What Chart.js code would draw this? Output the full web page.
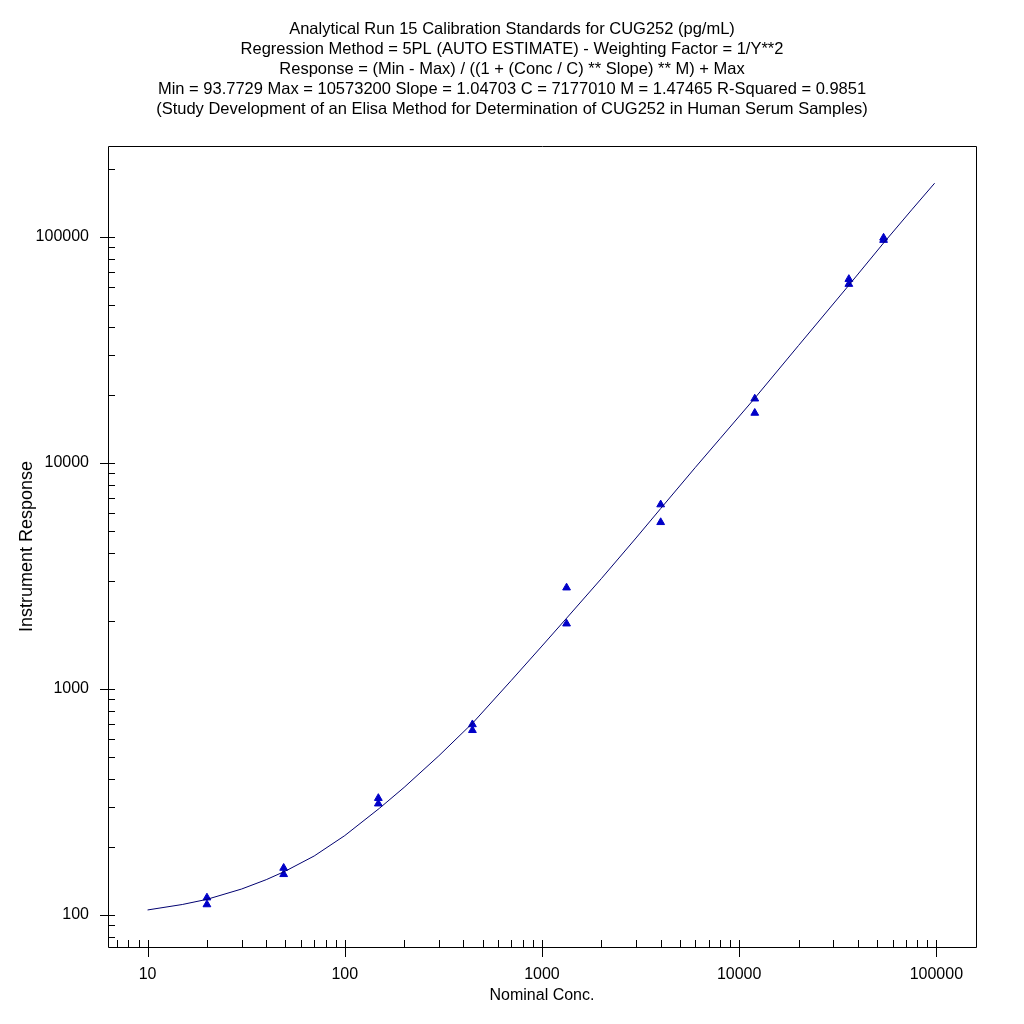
<!DOCTYPE html>
<html>
<head>
<meta charset="utf-8">
<title>Calibration Standards CUG252</title>
<script src="https://cdn.jsdelivr.net/npm/chart.js@4.4.1/dist/chart.umd.min.js"></script>
<style>
  html, body { margin: 0; padding: 0; background: #fff; }
</style>
</head>
<body>
<canvas id="calChart" width="1024" height="1024"></canvas>
<script>
// ---------------------------------------------------------------------------
// Data
// ---------------------------------------------------------------------------

const titleLines = [
  'Analytical Run 15 Calibration Standards for CUG252 (pg/mL)',
  'Regression Method = 5PL (AUTO ESTIMATE) - Weighting Factor = 1/Y**2',
  'Response = (Min - Max) / ((1 + (Conc / C) ** Slope) ** M) + Max',
  'Min = 93.7729 Max = 10573200 Slope = 1.04703 C = 7177010 M = 1.47465 R-Squared = 0.9851',
  '(Study Development of an Elisa Method for Determination of CUG252 in Human Serum Samples)'
];
const xAxisTitle = 'Nominal Conc.';
const yAxisTitle = 'Instrument Response';

const xMajorTicks = [10, 100, 1000, 10000, 100000];
const xTickLabels = ['10', '100', '1000', '10000', '100000'];
const yMajorTicks = [100, 1000, 10000, 100000];
const yTickLabels = ['100', '1000', '10000', '100000'];
const minorSteps  = [2, 3, 4, 5, 6, 7, 8, 9];

// calibration standards, two replicates each
const stdConc  = [20, 49, 148, 444, 1333, 4000, 12000, 36000, 54000];
const stdRespA = [119, 161, 328, 695, 2800, 6530, 19200, 64900, 98900];
const stdRespB = [111, 151, 310, 655, 1940, 5450, 16600, 61700, 96600];

// fitted 5PL curve as drawn
const curveConc = [10, 15, 20, 30, 40, 50, 70, 100, 150, 200, 300, 450, 700, 1000,
                   1350, 2000, 3000, 4000, 6000, 8000, 12000, 20000, 36000, 54000,
                   75000, 98000];
const curveResp = [105, 111, 117, 130, 143, 156, 182, 224, 296, 366, 505, 712, 1090, 1545,
                   2077, 3070, 4645, 6270, 9540, 12780, 19300, 33000, 61000, 93800,
                   131500, 172500];

// ---------------------------------------------------------------------------
// Helpers
// ---------------------------------------------------------------------------

function toPoints(xs, ys) {
  return xs.map(function (x, i) { return { x: x, y: ys[i] }; });
}

function logTicks(majors, min, max) {
  const out = [];
  majors.concat([majors[0] / 10]).forEach(function (m) {
    [1].concat(minorSteps).forEach(function (s) {
      const v = m * s;
      if (v >= min && v <= max && !out.some(function (t) { return t.value === v; })) {
        out.push({ value: v });
      }
    });
  });
  return out.sort(function (a, b) { return a.value - b.value; });
}

function isMajor(list, v) {
  return list.indexOf(v) !== -1;
}

// frame + inward minor ticks / crossing major ticks
const frameAndTicks = {
  id: 'frameAndTicks',
  afterDraw(chart) {
    const ctx = chart.ctx;
    const a = chart.chartArea;
    const x = chart.scales.x;
    const y = chart.scales.y;
    ctx.save();
    ctx.strokeStyle = '#000';
    ctx.lineWidth = 1;
    ctx.beginPath();
    ctx.rect(Math.round(a.left) + 0.5, Math.round(a.top) + 0.5,
             Math.round(a.right - a.left), Math.round(a.bottom - a.top));
    x.ticks.forEach(function (t) {
      const px = Math.round(x.getPixelForValue(t.value)) + 0.5;
      const major = isMajor(xMajorTicks, t.value);
      ctx.moveTo(px, a.bottom - 7);
      ctx.lineTo(px, a.bottom + (major ? 10 : 0));
    });
    y.ticks.forEach(function (t) {
      const py = Math.round(y.getPixelForValue(t.value)) + 0.5;
      const major = isMajor(yMajorTicks, t.value);
      ctx.moveTo(a.left + 7, py);
      ctx.lineTo(a.left - (major ? 8 : 0), py);
    });
    ctx.stroke();
    ctx.restore();
  }
};

// ---------------------------------------------------------------------------
// Chart
// ---------------------------------------------------------------------------

Chart.defaults.font.family = 'Arial, "Liberation Sans", sans-serif';
Chart.defaults.color = '#000';

const X_MIN = 6.3, X_MAX = 158900;
const Y_MIN = 72,  Y_MAX = 252000;

new Chart(document.getElementById('calChart').getContext('2d'), {
  type: 'scatter',
  data: {
    datasets: [
      {
        label: 'Fit',
        data: toPoints(curveConc, curveResp),
        showLine: true,
        borderColor: '#000070',
        borderWidth: 1,
        pointRadius: 0,
        tension: 0,
        order: 1
      },
      {
        label: 'Standards',
        data: toPoints(stdConc, stdRespA).concat(toPoints(stdConc, stdRespB)),
        pointStyle: 'triangle',
        pointRadius: 4.5,
        backgroundColor: '#0000C8',
        borderColor: '#0000C8',
        borderWidth: 1,
        order: 2
      }
    ]
  },
  options: {
    responsive: false,
    devicePixelRatio: 1,
    animation: false,
    layout: { padding: 0 },
    plugins: {
      legend: { display: false },
      tooltip: { enabled: false },
      title: {
        display: true,
        text: titleLines,
        color: '#000',
        font: { size: 16.5, weight: 'normal', lineHeight: 1.2 },
        padding: { top: 20, bottom: 27 }
      }
    },
    scales: {
      x: {
        type: 'logarithmic',
        min: X_MIN,
        max: X_MAX,
        grid: { display: false },
        border: { display: false },
        afterBuildTicks: function (s) { s.ticks = logTicks(xMajorTicks, X_MIN, X_MAX); },
        afterFit: function (s) { s.height = 77; },
        ticks: {
          autoSkip: false,
          maxRotation: 0,
          minRotation: 0,
          padding: 10,
          font: { size: 16 },
          callback: function (v) {
            const i = xMajorTicks.indexOf(v);
            return i === -1 ? '' : xTickLabels[i];
          }
        },
        title: {
          display: true,
          text: xAxisTitle,
          font: { size: 16 },
          padding: { top: 0, bottom: 19 }
        }
      },
      y: {
        type: 'logarithmic',
        min: Y_MIN,
        max: Y_MAX,
        grid: { display: false },
        border: { display: false },
        afterBuildTicks: function (s) { s.ticks = logTicks(yMajorTicks, Y_MIN, Y_MAX); },
        afterFit: function (s) { s.width = 108; },
        ticks: {
          autoSkip: false,
          padding: 11,
          font: { size: 16 },
          callback: function (v) {
            const i = yMajorTicks.indexOf(v);
            return i === -1 ? '' : yTickLabels[i];
          }
        },
        title: {
          display: true,
          text: yAxisTitle,
          font: { size: 18 },
          padding: { top: 16, bottom: 0 }
        }
      },
      // empty right-hand margin so the title centres on the page
      yRight: {
        type: 'linear',
        position: 'right',
        grid: { display: false },
        border: { display: false },
        ticks: { display: false },
        afterFit: function (s) { s.width = 48; }
      }
    }
  },
  plugins: [frameAndTicks]
});
</script>
</body>
</html>
